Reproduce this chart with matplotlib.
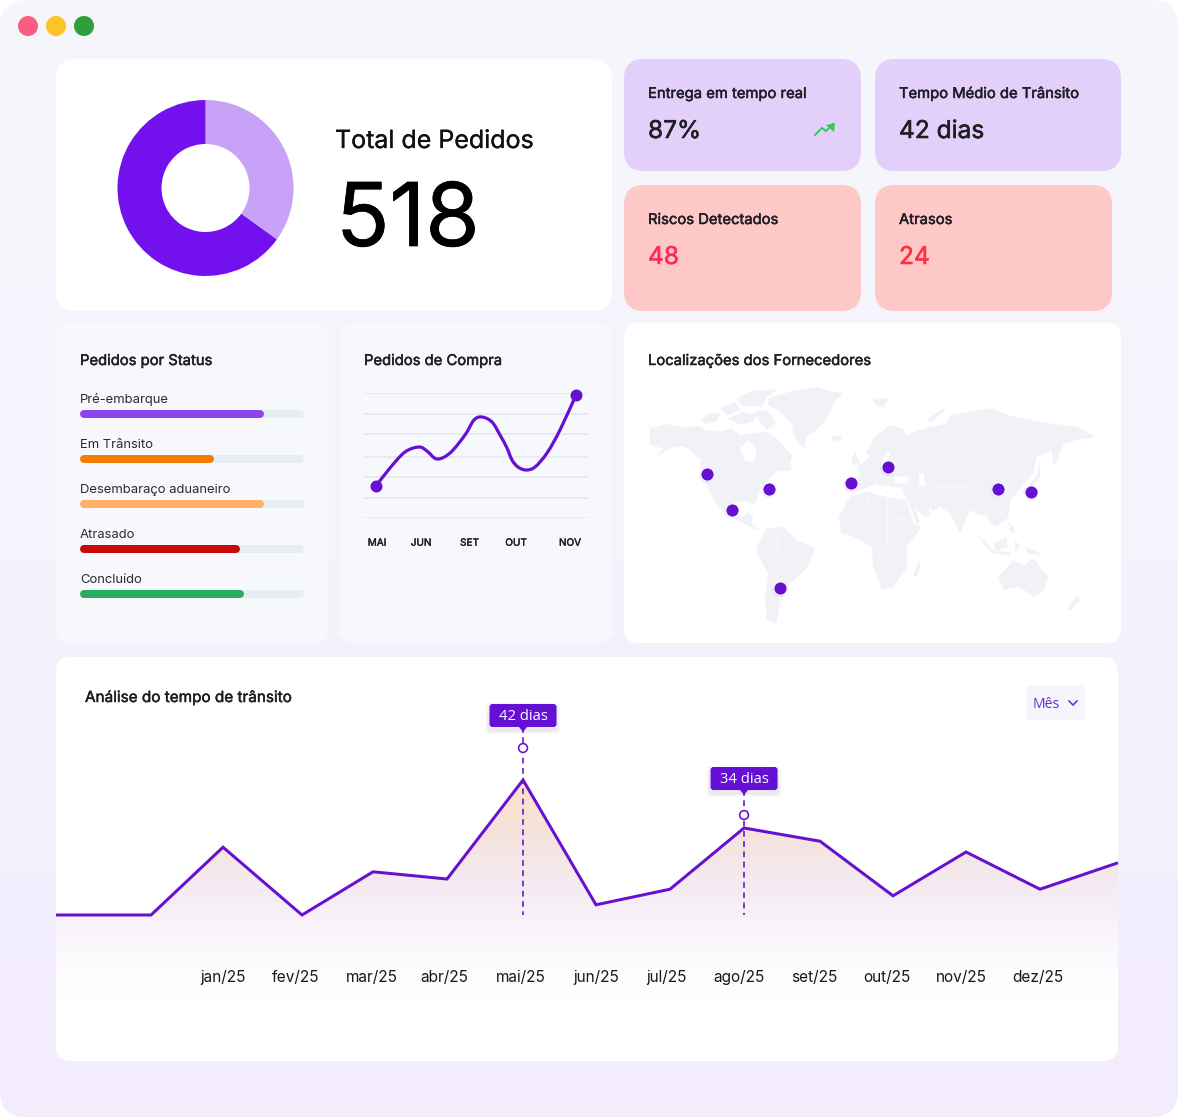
import numpy as np
import matplotlib
matplotlib.use("Agg")
import matplotlib.pyplot as plt
import matplotlib.patheffects as pe
from matplotlib.patches import FancyBboxPatch, Polygon, Circle, PathPatch
from matplotlib.path import Path
from matplotlib.colors import LinearSegmentedColormap

# ---------------- data ----------------
donut_labels = ["Concluídos", "Demais"]
donut_values = [181, 337]
total_pedidos = "518"

kpi_titles = ["Entrega em tempo real", "Tempo Médio de Trânsito", "Riscos Detectados", "Atrasos"]
kpi_values = ["87%", "42 dias", "48", "24"]

status_labels = ["Pré-embarque", "Em Trânsito", "Desembaraço aduaneiro", "Atrasado", "Concluído"]
status_values = [82, 60, 82, 71.5, 73]
status_colors = ["#8E44EC", "#F57C00", "#FFB066", "#C80A0A", "#27AE60"]

compra_x = [12, 26, 41, 55, 63, 73, 86, 101, 110, 118, 128, 136, 143, 148, 154, 162, 171, 183, 196, 212]
compra_y = [32, 50, 66, 71, 67, 59, 65, 83, 98, 101, 96, 83, 70, 58, 51, 48, 51, 65, 88, 123]
compra_grid = [0, 20, 41, 61, 84, 104, 125]
compra_tick_pos = [13, 57, 105.5, 152, 206]
compra_tick_labels = ["MAI", "JUN", "SET", "OUT", "NOV"]

transit_x = [-1.227, 0.04, 1, 2.053, 3, 3.987, 5, 5.973, 6.96, 7.947, 8.96, 9.933, 10.907, 11.893, 12.933]
transit_y = [19.5, 19.5, 30.8, 19.5, 26.7, 25.5, 42, 21.2, 23.8, 34, 31.8, 22.7, 30, 23.8, 28.2]
month_pos = [1, 1.97, 2.99, 3.95, 4.97, 5.97, 6.91, 7.88, 8.88, 9.85, 10.85, 11.87]
month_labels = ["jan/25", "fev/25", "mar/25", "abr/25", "mai/25", "jun/25",
                "jul/25", "ago/25", "set/25", "out/25", "nov/25", "dez/25"]
highlight_x = [5, 7.947]
highlight_y = [42, 34]
highlight_labels = ["42 dias", "34 dias"]

pins_x = [261, 447, 335, 479, 692, 803, 1133, 1233]
pins_y = [463, 507, 569, 805, 490, 442, 506, 515]

land = [
 [(88,325),(135,312),(190,322),(240,318),(255,330),(300,335),(335,325),(360,345),(400,340),(440,335),(470,355),(495,385),(518,405),(510,425),(515,450),(470,455),(445,480),(420,510),(408,548),(395,555),(385,545),(350,545),(330,560),(345,590),(370,590),(385,575),(400,590),(395,610),(420,632),(400,625),(360,605),(320,585),(285,550),(262,500),(243,450),(240,420),(215,395),(190,378),(150,385),(105,412),(130,385),(90,375)],
 [(445,235),(520,212),(590,202),(640,215),(668,220),(640,250),(625,290),(590,330),(560,350),(552,385),(535,370),(520,340),(515,310),(490,285),(470,270),(445,255)],
 [(350,235),(395,212),(470,208),(440,232),(425,262),(395,258),(370,262)],
 [(300,265),(345,245),(360,270),(320,285)],
 [(245,300),(265,280),(300,280),(290,305),(255,312)],
 [(325,295),(370,275),(410,285),(400,305),(360,315)],
 [(400,275),(440,270),(470,310),(440,330),(420,305)],
 [(630,350),(665,345),(662,360),(640,363)],
 [(758,240),(810,232),(790,262),(770,258)],
 [(920,300),(970,265),(975,272),(935,305)],
 [(695,420),(706,395),(722,432),(700,436)],
 [(680,512),(675,482),(720,465),(712,440),(750,412),(738,395),(770,345),(810,315),(850,325),(860,345),(915,325),(980,310),(990,285),(1050,275),(1110,265),(1180,290),(1290,310),(1370,320),(1425,350),(1370,360),(1332,372),(1300,435),(1295,392),(1250,410),(1240,460),(1205,500),(1172,540),(1165,592),(1130,620),(1112,610),(1100,590),(1075,585),(1050,570),(1020,640),(990,582),(960,560),(935,578),(890,612),(860,535),(845,510),(800,520),(770,490),(720,512)],
 [(655,590),(690,530),(740,515),(800,532),(860,540),(880,610),(905,620),(860,680),(862,740),(820,802),(785,810),(760,740),(755,680),(700,650),(665,640)],
 [(880,768),(895,720),(902,740),(888,772)],
 [(410,680),(440,625),(490,620),(530,660),(585,685),(560,745),(510,790),(480,850),(468,912),(440,900),(435,830),(445,760),(410,700)],
 [(1135,770),(1180,722),(1215,735),(1240,715),(1285,770),(1270,815),(1240,830),(1200,800),(1150,810)],
 [(1338,868),(1375,825),(1380,842),(1352,870)],
 [(1300,435),(1310,395),(1320,375),(1318,415)],
 [(1205,520),(1250,465),(1258,425),(1262,470),(1225,515)],
 [(1070,640),(1122,692),(1100,685)],
 [(1105,690),(1175,698),(1170,706),(1115,698)],
 [(1120,672),(1160,650),(1162,680),(1130,692)],
 [(1185,660),(1200,680),(1185,700)],
 [(1215,680),(1272,705),(1225,702)],
 [(1165,605),(1180,620),(1185,640),(1170,632)],
]
seas = [
 [(360,385),(385,362),(412,392),(398,428),(372,418)],
 [(760,500),(800,496),(850,505),(846,520),(795,515)],
 [(820,470),(868,470),(860,490),(825,488)],
 [(895,460),(912,462),(915,498),(898,495)],
 [(885,565),(925,600),(900,605)],
 [(925,560),(945,575),(930,580)],
 [(780,440),(800,395),(812,395),(795,440)],
]
borders = [
 [(240,420),(415,420)], [(262,500),(345,545)], [(740,520),(760,640)], [(800,532),(800,680)],
 [(690,590),(880,600)], [(770,700),(860,700)], [(790,740),(860,760)], [(440,700),(560,720)],
 [(470,640),(480,850)], [(860,400),(1000,470)], [(1000,470),(1180,440)], [(930,500),(1060,500)],
 [(1060,500),(1100,590)], [(760,440),(880,440)],
]

# ---------------- helpers ----------------
W, H = 1178, 1117
plt.rcParams["font.family"] = ["Inter", "DejaVu Sans"]
plt.rcParams["axes.unicode_minus"] = False
PX = 0.72
fig = plt.figure(figsize=(W / 100, H / 100), dpi=100, facecolor="white")
INK = "#1E1E24"
PURPLE = "#6610D2"

def make_axes(x0, y0, x1, y1, z=2):
    a = fig.add_axes([x0 / W, 1 - y1 / H, (x1 - x0) / W, (y1 - y0) / H], zorder=z)
    a.patch.set_alpha(0)
    return a

def rrect(a, x0, y0, x1, y1, r, color, **kw):
    p = FancyBboxPatch((x0, y0), x1 - x0, y1 - y0, boxstyle=f"round,pad=0,rounding_size={r}",
                       fc=color, ec="none", **kw)
    a.add_patch(p)
    return p

def gradient(stops):
    return LinearSegmentedColormap.from_list("g", stops)

def embolden(t, color, width):
    t.set_path_effects([pe.withStroke(linewidth=width, foreground=color)])

bg = make_axes(0, 0, W, H, 0)
bg.set_xlim(0, W); bg.set_ylim(H, 0); bg.axis("off")
top = make_axes(0, 0, W, H, 6)
top.set_xlim(0, W); top.set_ylim(H, 0); top.axis("off")

# window background
win = rrect(bg, 0, 0, W, H, 26, "none")
im = bg.imshow(np.linspace(0, 1, 256)[:, None], extent=(0, W, H, 0), aspect="auto",
               cmap=gradient(["#F6F7FC", "#F5F3FD", "#F3ECFD"]), zorder=0)
im.set_clip_path(win)
bg.set_xlim(0, W); bg.set_ylim(H, 0)

for cx, c in zip([28, 56, 84], ["#FB5C80", "#FFC526", "#2F9E3C"]):
    bg.add_patch(Circle((cx, 26), 10, fc=c, ec="none", zorder=3))

# cards
cards = [(56, 59, 612, 311, "#FFFFFF", 20), (624, 59, 861, 171, "#E2CFFA", 20), (875, 59, 1121, 171, "#E2CFFA", 20),
         (624, 185, 861, 311, "#FEC8C7", 20), (875, 185, 1112, 311, "#FEC8C7", 20),
         (56, 323, 328, 643, "#F7F8FC", 15), (340, 323, 612, 643, "#F7F8FC", 15),
         (624, 323, 1121, 643, "#FFFFFF", 14), (56, 657, 1118, 1061, "#FFFFFF", 15)]
for x0, y0, x1, y1, c, r in cards:
    bg.add_patch(FancyBboxPatch((x0, y0), x1 - x0, y1 - y0, boxstyle=f"round,pad=0,rounding_size={r}",
                                fc=c, ec="none", zorder=2))

def label(x, y, s, px, color=INK, bold=0.35, **kw):
    t = top.text(x, y, s, fontsize=px * PX, color=color, va="baseline", **kw)
    if bold:
        embolden(t, color, bold)
    return t

# donut
axd = make_axes(205.5 - 90, 188 - 90, 205.5 + 90, 188 + 90)
axd.pie(donut_values, startangle=90, counterclock=False, colors=["#C8A2F7", "#7311EE"], radius=88 / 90,
        wedgeprops=dict(width=44 / 90, linewidth=0))
axd.set_xlim(-1, 1); axd.set_ylim(-1, 1)
label(335, 148, "Total de Pedidos", 25, "#111111", 0.2)
label(336, 246, total_pedidos, 88, "#000000", 0.5)

# KPI
kpi_pos = [(648, 98, 138), (899, 98, 138), (648, 224, 264), (899, 224, 264)]
kpi_cols = ["#1F1F23", "#1F1F23", "#FF2D55", "#FF3040"]
for (x, yt, yv), t, v, c in zip(kpi_pos, kpi_titles, kpi_values, kpi_cols):
    label(x, yt, t, 14.8)
    label(x, yv, v, 24.5, c, 0.4)
top.plot([815, 822, 826, 833], [135, 128, 131, 124], color="#2ECC4F", lw=1.4, solid_joinstyle="miter")
top.add_patch(Polygon([(835, 123), (826, 125), (834, 132)], fc="#2ECC4F", ec="none"))

# status bars
label(80, 365, "Pedidos por Status", 14.8)
axs = make_axes(80, 390, 304, 600)
axs.set_xlim(0, 100); axs.set_ylim(4.67, 0); axs.axis("off")
ypos = np.arange(len(status_values)) + 0.53
cap = 4 * 100 / 224
axs.hlines(ypos, cap, 100 - cap, colors="#E6EDF3", lw=8 * PX, capstyle="round")
axs.hlines(ypos, cap, np.array(status_values) - cap, colors=status_colors, lw=8 * PX, capstyle="round")
for y, s in zip([403, 448, 493, 538, 583], status_labels):
    label(80, y, s, 13, "#2A2A30", 0)

# purchase orders
label(364, 365, "Pedidos de Compra", 14.8)
axc = make_axes(364, 393, 588, 518)
axc.set_xlim(0, 224); axc.set_ylim(0, 125)
for s in axc.spines.values():
    s.set_visible(False)
axc.set_yticks(compra_grid); axc.set_yticklabels([])
axc.tick_params(axis="y", length=0)
axc.grid(True, axis="y", color="#E4E6EF", lw=1.1)
axc.set_axisbelow(True)
axc.set_xticks(compra_tick_pos)
axc.set_xticklabels(compra_tick_labels, fontsize=10 * PX, color=INK)
for t in axc.get_xticklabels():
    embolden(t, INK, 0.3)
axc.tick_params(axis="x", length=0, pad=14.2)
P = np.column_stack([compra_x, compra_y]).astype(float)
verts = [P[0]]; codes = [Path.MOVETO]
for i in range(len(P) - 1):
    p0 = P[max(i - 1, 0)]; p1 = P[i]; p2 = P[i + 1]; p3 = P[min(i + 2, len(P) - 1)]
    verts += [p1 + (p2 - p0) / 6, p2 - (p3 - p1) / 6, p2]
    codes += [Path.CURVE4] * 3
axc.add_patch(PathPatch(Path(verts, codes), fc="none", ec=PURPLE, lw=3.2 * PX, clip_on=False))
axc.plot([compra_x[0], compra_x[-1]], [compra_y[0], compra_y[-1]], "o", color=PURPLE, ms=12 * PX, mew=0, clip_on=False)

# map
label(648, 365, "Localizações dos Fornecedores", 14.8)
axm = make_axes(620, 320, 1130, 650)
axm.set_xlim(0, 1530); axm.set_ylim(990, 0); axm.axis("off")
for poly in land:
    axm.add_patch(Polygon(poly, closed=True, fc="#F1F2F7", ec="none"))
for poly in seas:
    axm.add_patch(Polygon(poly, closed=True, fc="#FFFFFF", ec="none"))
for line in borders:
    xs, ys = zip(*line)
    axm.plot(xs, ys, color="#FFFFFF", lw=0.4, alpha=0.9)
axm.scatter(pins_x, np.array(pins_y) + 4, s=110, color="#6610D2", alpha=0.10, edgecolors="none", zorder=4)
axm.scatter(pins_x, pins_y, s=92, color=PURPLE, edgecolors="white", linewidths=0.8, zorder=5)

# transit analysis
label(85, 702, "Análise do tempo de trânsito", 15.3)
axt = make_axes(56, 690, 1118, 1000)
axt.set_xlim(-1.227, 12.933); axt.set_ylim(5.333, 57)
for s in axt.spines.values():
    s.set_visible(False)
axt.set_yticks([])
axt.set_xticks(month_pos)
axt.set_xticklabels(month_labels, fontsize=15.4 * PX, color="#17171C")
axt.tick_params(axis="x", length=0, pad=-21.8)
grad = gradient(["#FFFFFF", "#FBF8FC", "#F4EBF3", "#F5E3DC", "#FBE0C6"])
area = Polygon(list(zip(transit_x, transit_y)) + [(transit_x[-1], 5.333), (transit_x[0], 5.333)],
               closed=True, transform=axt.transData, fc="none", ec="none")
axt.add_patch(area)
gim = axt.imshow(np.linspace(1, 0, 256)[:, None], extent=(-1.227, 12.933, 5.333, 42), aspect="auto",
                 cmap=grad, zorder=1)
gim.set_clip_path(area)
axt.set_xlim(-1.227, 12.933); axt.set_ylim(5.333, 57)
axt.plot(transit_x, transit_y, color=PURPLE, lw=3 * PX, solid_joinstyle="miter", solid_capstyle="butt",
         zorder=3, clip_on=False)
fig.canvas.draw()
for x, y, s in zip(highlight_x, highlight_y, highlight_labels):
    dx, dy = axt.transData.transform((x, y))
    px, py = dx, H - dy
    base = H - axt.transData.transform((x, 19.5))[1]
    boxb = py - 53 if y > 40 else py - 38
    circ = py - 32 if y > 40 else py - 13
    top.plot([px, px], [boxb, base], color=PURPLE, lw=1.6 * PX, dashes=(3.6, 2.8), zorder=1)
    top.add_patch(Circle((px, circ), 4.4, fc="white", ec=PURPLE, lw=1.6 * PX, zorder=4))
    for grow, alpha in [(4, 0.04), (2, 0.06)]:
        rrect(top, px - 33.5 - grow, boxb - 23 - grow + 3, px + 33.5 + grow, boxb + grow + 3, 5, "#3A1A70",
              alpha=alpha, zorder=2)
    rrect(top, px - 33.5, boxb - 23, px + 33.5, boxb, 3, "#6410D4", zorder=3)
    top.add_patch(Polygon([(px - 4, boxb), (px + 4, boxb), (px, boxb + 5)], fc="#6410D4", ec="none", zorder=3))
    top.text(px, boxb - 10.5, s, color="white", fontsize=14.8 * PX, ha="center", va="center",
             family="Open Sans", zorder=5)

# dropdown
rrect(top, 1026, 686, 1085, 720, 4, "#F5F5FB")
top.text(1033, 708, "Mês", color="#6F2BD9", fontsize=14 * PX, family="Open Sans", va="baseline")
top.plot([1069, 1073, 1077], [701, 705, 701], color="#6F2BD9", lw=1.6 * PX)

fig.savefig("out.png", dpi=100, facecolor="white")
